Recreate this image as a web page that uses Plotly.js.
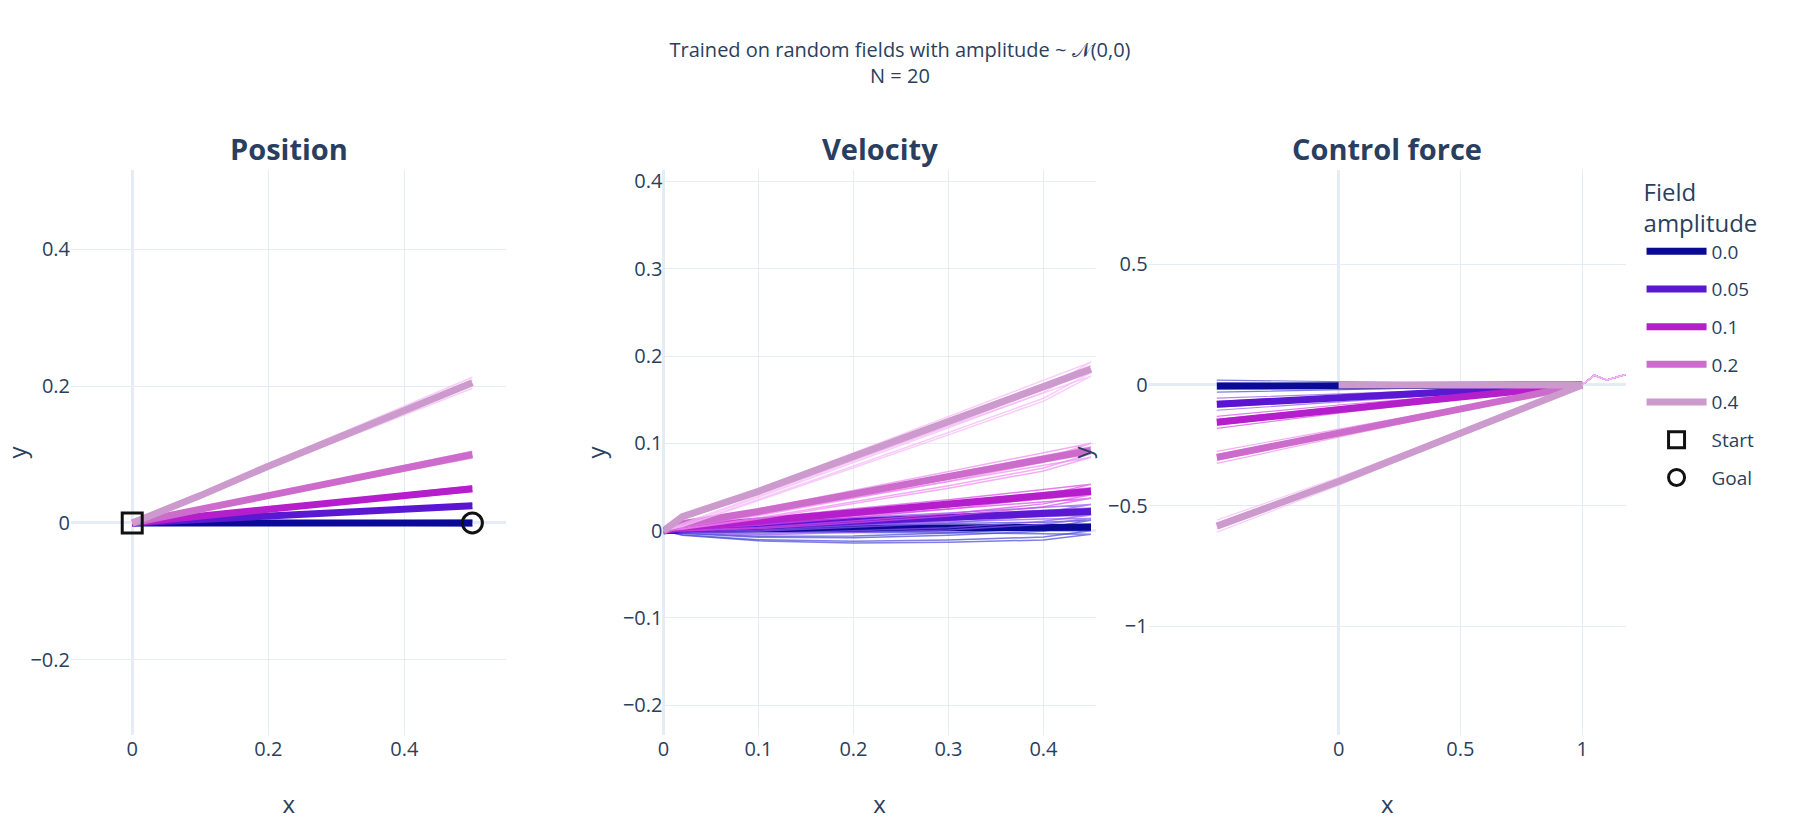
<!DOCTYPE html>
<html>
<head>
<meta charset="utf-8">
<script src="https://cdn.plot.ly/plotly-3.0.1.min.js"></script>
<style>body{margin:0}</style>
</head>
<body>
<div id="plot" style="width:1800px;height:820px"></div>
<script>
// field amplitudes and colours
var amps = ['0.0', '0.05', '0.1', '0.2', '0.4'];
var colors = ['#0a0a96', '#5a18d2', '#b41ecb', '#cc6dcc', '#cc9acc'];
var thinColors = ['#4848d8', '#8a55ee', '#d84ae6', '#f08af0', '#f7b8f7'];

// position: mean trajectories
var posX = [0, 0.1, 0.2, 0.3, 0.4, 0.5];
var posY = [
	[0, 0, 0, 0, 0, 0],
	[0, 0.005, 0.01, 0.015, 0.02, 0.025],
	[0, 0.01, 0.02, 0.03, 0.04, 0.05],
	[0, 0.02, 0.04, 0.06, 0.08, 0.1],
	[0, 0.04, 0.083, 0.124, 0.165, 0.205]
];
// spread of individual runs at the end point
var posSpread = [
	[-0.004, 0.002, 0.004],
	[-0.003, 0.002, 0.003],
	[-0.004, 0.002, 0.004],
	[-0.005, 0.003, 0.005],
	[-0.008, 0.004, 0.008]
];

// velocity: outward path and return path of the loop
var velOutX = [0, 0.02, 0.1, 0.2, 0.3, 0.4, 0.45];
var velBackX = [0.45, 0.4, 0.3, 0.2, 0.1, 0.02, 0];
var velOut = [
	[0, 0.001, 0.002, 0.002, 0.003, 0.003, 0.004],
	[0, 0.002, 0.006, 0.011, 0.015, 0.02, 0.022],
	[0, 0.004, 0.011, 0.021, 0.03, 0.04, 0.045],
	[0, 0.008, 0.022, 0.042, 0.062, 0.082, 0.092],
	[0, 0.016, 0.045, 0.085, 0.125, 0.165, 0.185]
];
var velBack = [
	[0.004, -0.004, -0.008, -0.01, -0.009, -0.004, 0],
	[0.022, 0.014, 0.006, 0.002, -0.002, -0.001, 0],
	[0.045, 0.034, 0.022, 0.013, 0.005, 0.001, 0],
	[0.092, 0.075, 0.054, 0.035, 0.016, 0.003, 0],
	[0.185, 0.155, 0.115, 0.076, 0.037, 0.006, 0]
];
var velSpread = [-0.008, -0.004, 0.004, 0.008];

// control force
var ctrlX = [-0.5, 0, 0.5, 1];
var ctrlY = [
	[-0.005, -0.003, -0.002, 0],
	[-0.08, -0.055, -0.028, 0],
	[-0.155, -0.1, -0.05, 0],
	[-0.3, -0.2, -0.1, 0],
	[-0.585, -0.4, -0.2, 0]
];
var ctrlTailX = [1, 1.05, 1.1, 1.2];
var ctrlTailY = [0, 0.04, 0.02, 0.05];
var ctrlSpread = [-0.025, -0.012, 0.012, 0.025];

var traces = [];
for (var i = 0; i < amps.length; i++) {
	// thin individual runs
	for (var k = 0; k < posSpread[i].length; k++) {
		var yy = [];
		for (var p = 0; p < posX.length; p++) yy.push(posY[i][p] + posSpread[i][k] * p / 5);
		traces.push({x: posX, y: yy, mode: 'lines', line: {color: thinColors[i], width: 1.5}, opacity: 0.7, showlegend: false, hoverinfo: 'skip', xaxis: 'x', yaxis: 'y'});
	}
	for (var k = 0; k < velSpread.length; k++) {
		var vx = velOutX.concat(velBackX);
		var vy = [];
		for (var p = 0; p < velOutX.length; p++) vy.push(velOut[i][p] + velSpread[k] * p / 6);
		for (var p = 0; p < velBackX.length; p++) vy.push(velBack[i][p] + velSpread[k] * (6 - p) / 6);
		traces.push({x: vx, y: vy, mode: 'lines', line: {color: thinColors[i], width: 1.5}, opacity: 0.7, showlegend: false, hoverinfo: 'skip', xaxis: 'x2', yaxis: 'y2'});
	}
	for (var k = 0; k < ctrlSpread.length; k++) {
		var cx = ctrlX.concat(ctrlTailX.slice(1));
		var cy = [];
		for (var p = 0; p < ctrlX.length; p++) cy.push(ctrlY[i][p] + ctrlSpread[k] * (3 - p) / 3);
		cy = cy.concat(ctrlTailY.slice(1));
		traces.push({x: cx, y: cy, mode: 'lines', line: {color: thinColors[i], width: 1.2}, opacity: 0.7, showlegend: false, hoverinfo: 'skip', xaxis: 'x3', yaxis: 'y3'});
	}
	// mean lines
	traces.push({x: posX, y: posY[i], mode: 'lines', name: amps[i], legendgroup: amps[i], line: {color: colors[i], width: 7}, xaxis: 'x', yaxis: 'y'});
	traces.push({x: velOutX, y: velOut[i], mode: 'lines', name: amps[i], legendgroup: amps[i], showlegend: false, line: {color: colors[i], width: 7}, xaxis: 'x2', yaxis: 'y2'});
	traces.push({x: ctrlX, y: ctrlY[i], mode: 'lines', name: amps[i], legendgroup: amps[i], showlegend: false, line: {color: colors[i], width: 7}, xaxis: 'x3', yaxis: 'y3'});
}
// start segment of the strongest field
traces.push({x: [0, 1], y: [0, 0], mode: 'lines', showlegend: false, line: {color: colors[4], width: 7}, xaxis: 'x3', yaxis: 'y3'});

traces.push({x: [0], y: [0], mode: 'markers', name: 'Start', marker: {symbol: 'square-open', size: 20, color: '#111', line: {width: 3}}, xaxis: 'x', yaxis: 'y'});
traces.push({x: [0.5], y: [0], mode: 'markers', name: 'Goal', marker: {symbol: 'circle-open', size: 20, color: '#111', line: {width: 3}}, xaxis: 'x', yaxis: 'y'});

var tf = {family: 'Open Sans, sans-serif', size: 20, color: '#2a3f5f'};
var ax = {gridcolor: '#e5ecf6', zerolinecolor: '#e5ecf6', zerolinewidth: 3, showline: false, tickfont: tf, ticks: '', automargin: false};
function axis(o) { var a = JSON.parse(JSON.stringify(ax)); for (var k in o) a[k] = o[k]; return a; }
var atf = {size: 24};

var layout = {
	width: 1800, height: 820,
	paper_bgcolor: 'white', plot_bgcolor: 'white',
	font: {family: 'Open Sans, sans-serif', color: '#2a3f5f'},
	margin: {l: 71, r: 174, t: 170, b: 85},
	title: {text: 'Trained on random fields with amplitude ~ 𝒩(0,0)<br>N = 20', x: 0.5, xanchor: 'center', y: 0.93, font: {size: 20, color: '#2a3f5f'}},
	xaxis: axis({domain: [0, 0.28], range: [-0.09, 0.55], tickvals: [0, 0.2, 0.4], ticktext: ['0', '0.2', '0.4'], title: {text: 'x', font: atf}}),
	yaxis: axis({domain: [0, 1], range: [-0.31, 0.516], tickvals: [-0.2, 0, 0.2, 0.4], ticktext: ['−0.2', '0', '0.2', '0.4'], title: {text: 'y', font: atf}}),
	xaxis2: axis({anchor: 'y2', domain: [0.381, 0.659], range: [0, 0.455], tickvals: [0, 0.1, 0.2, 0.3, 0.4], ticktext: ['0', '0.1', '0.2', '0.3', '0.4'], title: {text: 'x', font: atf}}),
	yaxis2: axis({anchor: 'x2', domain: [0, 1], range: [-0.234, 0.413], tickvals: [-0.2, -0.1, 0, 0.1, 0.2, 0.3, 0.4], ticktext: ['−0.2', '−0.1', '0', '0.1', '0.2', '0.3', '0.4'], title: {text: 'y', font: atf}}),
	xaxis3: axis({anchor: 'y3', domain: [0.693, 1.0], range: [-0.78, 1.18], tickvals: [0, 0.5, 1], ticktext: ['0', '0.5', '1'], title: {text: 'x', font: atf}}),
	yaxis3: axis({anchor: 'x3', domain: [0, 1], range: [-1.45, 0.89], tickvals: [-1, -0.5, 0, 0.5], ticktext: ['−1', '−0.5', '0', '0.5'], title: {text: 'y', font: atf}}),
	legend: {x: 1.01, xanchor: 'left', y: 1.0, yanchor: 'top', font: {size: 19}, title: {text: 'Field<br>amplitude', font: {size: 24}}, itemwidth: 60},
	annotations: [
		{text: '<b>Position</b>', x: 0.14, y: 1.0, xref: 'paper', yref: 'paper', xanchor: 'center', yanchor: 'bottom', showarrow: false, font: {size: 29}},
		{text: '<b>Velocity</b>', x: 0.52, y: 1.0, xref: 'paper', yref: 'paper', xanchor: 'center', yanchor: 'bottom', showarrow: false, font: {size: 29}},
		{text: '<b>Control force</b>', x: 0.8465, y: 1.0, xref: 'paper', yref: 'paper', xanchor: 'center', yanchor: 'bottom', showarrow: false, font: {size: 29}}
	]
};

Plotly.newPlot('plot', traces, layout, {displayModeBar: false});
</script>
</body>
</html>
